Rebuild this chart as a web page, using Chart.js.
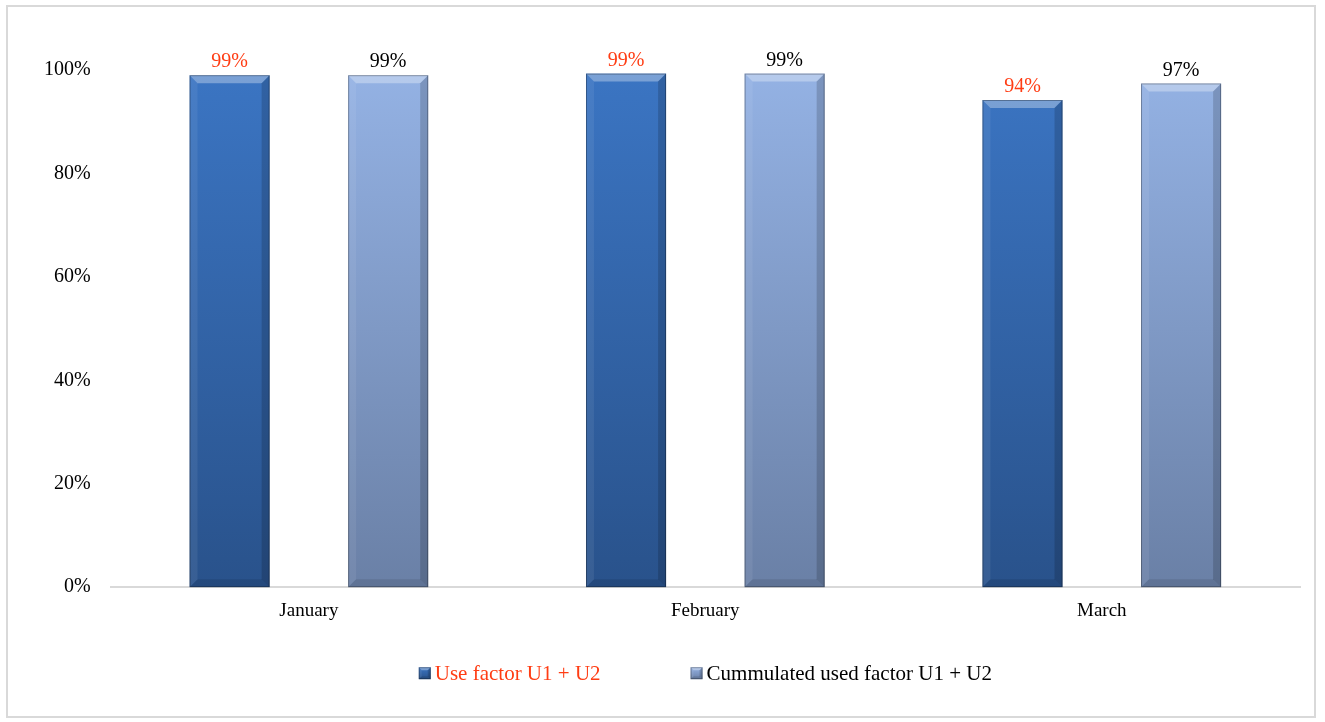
<!DOCTYPE html>
<html>
<head>
<meta charset="utf-8">
<title>Use factor U1 + U2</title>
<script src="https://cdn.jsdelivr.net/npm/chart.js@4/dist/chart.umd.min.js"></script>
<style>
  html, body { margin: 0; padding: 0; background: #fff; }
  #frame {
    position: absolute; left: 6px; top: 5px; width: 1310px; height: 713px;
    border: 2px solid #d9d9d9; box-sizing: border-box;
  }
  #wrap { position: absolute; left: 0; top: 0; width: 1325px; height: 722px; }
</style>
</head>
<body>
<div id="frame"></div>
<div id="wrap"><canvas id="useChart"></canvas></div>
<script>
// Monthly use factor figures
const months = ['January', 'February', 'March'];
const useFactor = [99.0, 99.3, 94.2];
const cumulatedFactor = [99.0, 99.3, 97.4];
const seriesNames = ['Use factor U1 + U2', 'Cummulated used factor U1 + U2'];
const yTicks = [0, 20, 40, 60, 80, 100];

const labelColors = ['#ff3d14', '#000000'];
const barColors = [['#3b75c3', '#29528b'], ['#94b2e4', '#6a80a6']];
const serif = '"Liberation Serif", "Times New Roman", serif';

// vertical gradient for a bar, based on the chart area
function barGradient(ctx, top, bottom) {
    const chart = ctx.chart;
    const area = chart.chartArea;
    if (!area) return top;
    const g = chart.ctx.createLinearGradient(0, area.top, 0, area.bottom);
    g.addColorStop(0, top);
    g.addColorStop(1, bottom);
    return g;
}

// bevelled look on a rectangle
function drawBevel(c, x0, y0, x1, y1, b) {
    c.save();
    c.fillStyle = 'rgba(255,255,255,0.32)';
    c.beginPath();
    c.moveTo(x0, y0); c.lineTo(x1, y0); c.lineTo(x1 - b, y0 + b); c.lineTo(x0 + b, y0 + b);
    c.closePath(); c.fill();
    c.fillStyle = 'rgba(255,255,255,0.07)';
    c.beginPath();
    c.moveTo(x0, y0); c.lineTo(x0 + b, y0 + b); c.lineTo(x0 + b, y1 - b); c.lineTo(x0, y1);
    c.closePath(); c.fill();
    c.fillStyle = 'rgba(0,0,0,0.16)';
    c.beginPath();
    c.moveTo(x1, y0); c.lineTo(x1 - b, y0 + b); c.lineTo(x1 - b, y1 - b); c.lineTo(x1, y1);
    c.closePath(); c.fill();
    c.fillStyle = 'rgba(0,0,0,0.10)';
    c.beginPath();
    c.moveTo(x0, y1); c.lineTo(x0 + b, y1 - b); c.lineTo(x1 - b, y1 - b); c.lineTo(x1, y1);
    c.closePath(); c.fill();
    c.strokeStyle = 'rgba(0,0,0,0.3)';
    c.lineWidth = 1;
    c.strokeRect(x0 + 0.5, y0 + 0.5, x1 - x0 - 1, y1 - y0 - 1);
    c.restore();
}

const bevelPlugin = {
    id: 'bevel',
    afterDatasetsDraw(chart) {
        chart.data.datasets.forEach((ds, i) => {
            chart.getDatasetMeta(i).data.forEach(bar => {
                const w = bar.width;
                drawBevel(chart.ctx, bar.x - w / 2, bar.y, bar.x + w / 2, bar.base, 8);
            });
        });
    }
};

// percentage text above each bar
const valueLabelPlugin = {
    id: 'valueLabels',
    afterDatasetsDraw(chart) {
        const c = chart.ctx;
        c.save();
        c.font = '20px ' + serif;
        c.textAlign = 'center';
        c.textBaseline = 'bottom';
        chart.data.datasets.forEach((ds, i) => {
            c.fillStyle = labelColors[i];
            chart.getDatasetMeta(i).data.forEach((bar, j) => {
                c.fillText(Math.round(ds.data[j]) + '%', bar.x, bar.y - 3);
            });
        });
        c.restore();
    }
};

// legend under the axis, centred on the plot
const legendPlugin = {
    id: 'bottomLegend',
    afterDraw(chart) {
        const c = chart.ctx;
        const area = chart.chartArea;
        c.save();
        c.font = '21px ' + serif;
        c.textBaseline = 'middle';
        const box = 12, gap = 4, spacing = 90;
        const widths = seriesNames.map(t => c.measureText(t).width);
        const total = widths.reduce((a, w) => a + w + box + gap, 0) + spacing * (seriesNames.length - 1);
        let x = (area.left + area.right) / 2 - total / 2;
        const y = area.bottom + 86;
        seriesNames.forEach((name, i) => {
            const g = c.createLinearGradient(0, y - box / 2, 0, y + box / 2);
            g.addColorStop(0, barColors[i][0]);
            g.addColorStop(1, barColors[i][1]);
            c.fillStyle = g;
            c.fillRect(x, y - box / 2, box, box);
            drawBevel(c, x, y - box / 2, x + box, y + box / 2, 3);
            c.fillStyle = labelColors[i];
            c.fillText(name, x + box + gap, y + 1);
            x += box + gap + widths[i] + spacing;
        });
        c.restore();
    }
};

const ctx = document.getElementById('useChart').getContext('2d');
const useChart = new Chart(ctx, {
    type: 'bar',
    data: {
        labels: months,
        datasets: [{
            label: seriesNames[0],
            data: useFactor,
            backgroundColor: c => barGradient(c, barColors[0][0], barColors[0][1]),
            borderWidth: 0,
            categoryPercentage: 0.8,
            barPercentage: 0.505
        }, {
            label: seriesNames[1],
            data: cumulatedFactor,
            backgroundColor: c => barGradient(c, barColors[1][0], barColors[1][1]),
            borderWidth: 0,
            categoryPercentage: 0.8,
            barPercentage: 0.505
        }]
    },
    options: {
        responsive: true,
        maintainAspectRatio: false,
        animation: false,
        layout: { padding: { left: 24, right: 25, top: 70, bottom: 88 } },
        scales: {
            x: {
                grid: { display: false, drawTicks: false },
                border: { display: true, color: '#d9d9d9', width: 2 },
                ticks: { color: '#000', font: { family: serif, size: 19 }, padding: 12 }
            },
            y: {
                min: 0,
                max: 100,
                afterBuildTicks: axis => { axis.ticks = yTicks.map(v => ({ value: v })); },
                grid: { display: false, drawTicks: false },
                border: { display: false },
                ticks: {
                    color: '#000',
                    font: { family: serif, size: 20 },
                    padding: 20,
                    callback: v => v + '%'
                }
            }
        },
        plugins: {
            tooltip: { enabled: false },
            legend: { display: false }
        }
    },
    plugins: [bevelPlugin, valueLabelPlugin, legendPlugin]
});
</script>
</body>
</html>
